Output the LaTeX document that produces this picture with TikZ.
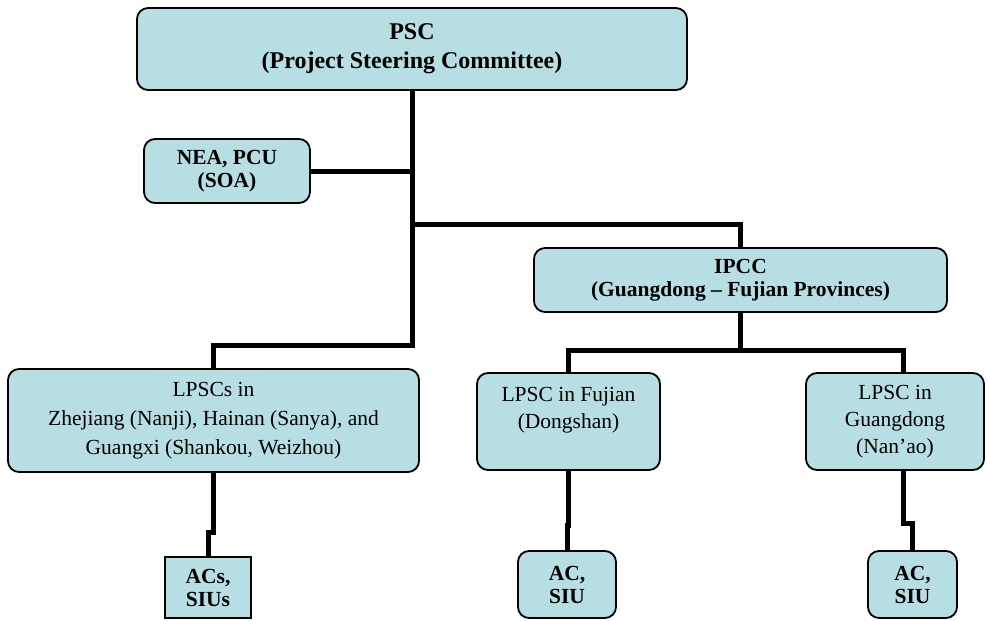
\documentclass[tikz,border=0pt]{standalone}
\usepackage{fontspec}
\setmainfont{Liberation Serif}
\definecolor{boxfill}{RGB}{183,222,226}
\begin{document}
\begin{tikzpicture}[x=1pt,y=-1pt,
  box/.style={draw=black, line width=1.8pt, fill=boxfill, rounded corners=11pt,
    inner sep=0pt, align=center, font=\fontsize{21.5}{27}\selectfont},
  boldbox/.style={box, font=\fontsize{21.5}{23}\selectfont\bfseries},
  sqbox/.style={boldbox, rounded corners=0pt},
  conn/.style={draw=black, line width=5pt, line join=miter}]
\useasboundingbox (0,0) rectangle (988,621);

\node[boldbox, minimum width=550, minimum height=82, font=\fontsize{24}{29}\selectfont\bfseries] (psc) at (412,49)
  {PSC\\(Project Steering Committee)};
\node[boldbox, minimum width=166, minimum height=64] (nea) at (227,171) {NEA, PCU\\(SOA)};
\node[boldbox, minimum width=413, minimum height=64] (ipcc) at (740.5,280)
  {IPCC\\(Guangdong -- Fujian Provinces)};
\node[box, minimum width=411, minimum height=103, font=\fontsize{21.5}{29}\selectfont] (lpscs) at (213.5,420.5)
  {LPSCs in\\Zhejiang (Nanji), Hainan (Sanya), and\\Guangxi (Shankou, Weizhou)};
\node[box, minimum width=183, minimum height=97] (fujian) at (568.5,421.5)
  {LPSC in Fujian\\(Dongshan)\\\mbox{}};
\node[box, minimum width=178, minimum height=97] (guangdong) at (895,421.5)
  {LPSC in\\Guangdong\\(Nan'ao)};
\node[sqbox, minimum width=86, minimum height=61] (acs) at (208,587.5) {ACs,\\SIUs};
\node[boldbox, minimum width=98, minimum height=67] (ac1) at (567,584.5) {AC,\\SIU};
\node[boldbox, minimum width=89, minimum height=67] (ac2) at (912.5,584.5) {AC,\\SIU};

\coordinate (gx) at (903,350);
\coordinate (gb) at (903,470);

\draw[conn] (psc.south) -- (psc.south |- 0,345) -| (lpscs.north);
\draw[conn] (nea.east) -- (nea.east -| psc.south);
\draw[conn] (psc.south |- 0,224) -| (ipcc.north);
\draw[conn] (ipcc.south) -- (ipcc.south |- gx);
\draw[conn] (fujian.north) |- (gx) -- (gx |- guangdong.north);
\draw[conn] (lpscs.south) -- (lpscs.south |- 0,532) -| (acs.north);
\draw[conn] (fujian.south) -- (fujian.south |- 0,525) -| (ac1.north);
\draw[conn] (gb) -- (gb |- 0,523) -| (ac2.north);
\end{tikzpicture}
\end{document}
